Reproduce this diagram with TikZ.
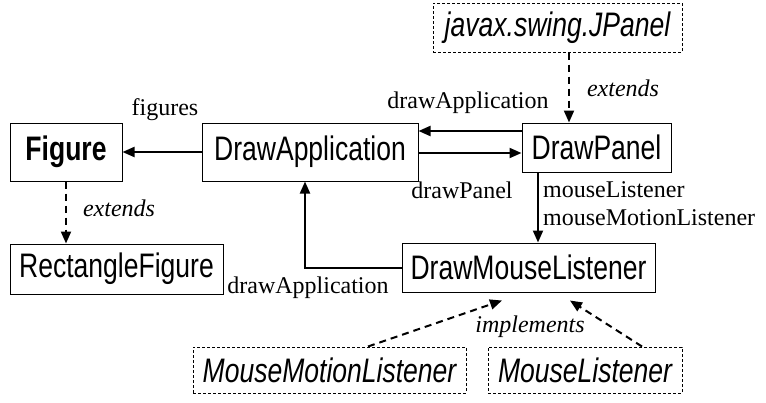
\documentclass[tikz,border=0pt]{standalone}
\usepackage{fontspec}
\setmainfont{Liberation Serif}
\newfontfamily\clsfont[FakeStretch=0.78]{Liberation Sans}
\usetikzlibrary{positioning, arrows.meta}

\begin{document}
\begin{tikzpicture}[x=1pt, y=-1pt,
		font=\fontsize{24}{28}\selectfont,
		cls/.style={draw, rectangle, line width=1pt, inner sep=0pt, font=\clsfont\fontsize{34}{40}\selectfont},
		iface/.style={cls, dash pattern=on 3pt off 2pt, font=\clsfont\itshape\fontsize{34}{40}\selectfont},
		arr/.style={-{Triangle[length=12pt,width=10pt]}, line width=2pt},
		dep/.style={arr, dash pattern=on 7pt off 5pt},
		lbl/.style={inner sep=0pt},
	]
	\useasboundingbox (0,0) rectangle (766,402);

	% classes
	\node[cls, minimum width=112pt, minimum height=58pt] (fig) at (66,152) {\bfseries Figure};
	\node[cls, minimum width=216pt, minimum height=58pt] (app) at (310,152) {DrawApplication};
	\node[cls, minimum width=149pt, minimum height=49pt] (panel) at (596.5,147.5) {DrawPanel};
	\node[cls, minimum width=213pt, minimum height=50pt, below=62pt of fig.south west, anchor=north west] (rect) {RectangleFigure};
	\node[cls, minimum width=253pt, minimum height=49pt] (mouse) at (528.5,267.5) {DrawMouseListener};

	% library types
	\node[iface, minimum width=249pt, minimum height=49pt] (jpanel) at (557.5,27.5) {javax.swing.JPanel};
	\node[iface, minimum width=273pt, minimum height=46pt] (mml) at (329.5,370) {MouseMotionListener};
	\node[iface, minimum width=194pt, minimum height=46pt] (ml) at (585,370) {MouseListener};

	% associations
	\draw[arr] (app.west) -- (fig.east);
	\draw[arr] ([yshift=16.5pt]panel.west) -- ([yshift=21pt]app.east);
	\draw[arr] ([yshift=-1pt]app.east) -- ([yshift=-5.5pt]panel.west);
	\draw[arr] ([xshift=-58.5pt]panel.south) -- ([xshift=9.5pt]mouse.north);
	\draw[arr] (mouse.west) -| ([xshift=-5pt]app.south);

	% inheritance
	\draw[dep] ([xshift=11.5pt]jpanel.south) -- ([xshift=-27.5pt]panel.north);
	\draw[dep] (fig.south) -- ([xshift=-50.5pt]rect.north);
	\draw[dep] ([xshift=38.5pt]mml.north) -- ([xshift=-26.5pt,yshift=-8pt]mouse.south);
	\draw[dep] ([xshift=57pt]ml.north) -- ([xshift=41.5pt,yshift=-8pt]mouse.south);

	% labels
	\node[lbl] (figs) at (165,110) {figures};
	\node[lbl] (appref) at (468,103) {drawApplication};
	\node[lbl] (panelref) at (462,190) {drawPanel};
	\node[lbl, align=left, anchor=west] (listeners) at (543,204) {mouseListener\\mouseMotionListener};
	\node[lbl] (appref2) at (308,288) {drawApplication};
	\node[lbl] (ext1) at (623,88) {\itshape extends};
	\node[lbl] (ext2) at (119,208) {\itshape extends};
	\node[lbl] (impl) at (530,327) {\itshape implements};
\end{tikzpicture}
\end{document}
